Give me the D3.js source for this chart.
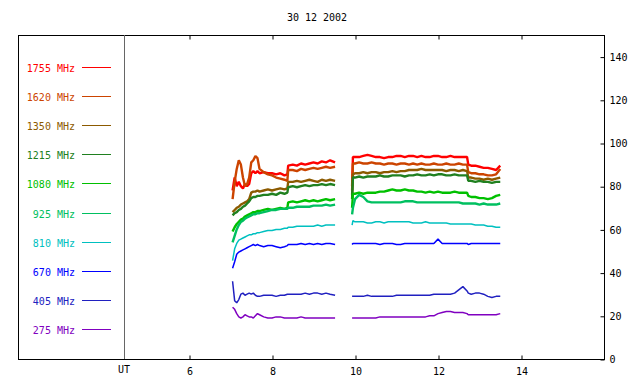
<!DOCTYPE html>
<html>
<head>
<meta charset="utf-8">
<script src="https://cdn.jsdelivr.net/npm/d3@7/dist/d3.min.js"></script>
<style>
  body { margin: 0; background: #fff; }
  text { font-family: "DejaVu Sans Mono", monospace; font-size: 10px; }
</style>
</head>
<body>
<div id="chart"></div>
<script>
// time (UT hours); 9.7 is the data gap
var times = [7.05, 7.1, 7.15, 7.2, 7.25, 7.3, 7.35, 7.4, 7.45, 7.5, 7.55, 7.6, 7.65, 7.7,
  7.8, 7.9, 8.0, 8.1, 8.2, 8.3, 8.37, 8.39, 8.5, 8.6, 8.7, 8.8, 8.9, 9.0, 9.1, 9.2, 9.3, 9.4, 9.52,
  9.7,
  9.93, 9.95, 10.0, 10.1, 10.2, 10.3, 10.4, 10.5, 10.6, 10.7, 10.8, 10.9, 11.0, 11.1, 11.2, 11.3,
  11.4, 11.5, 11.6, 11.7, 11.8, 11.9, 12.0, 12.1, 12.2, 12.3, 12.4, 12.5, 12.6, 12.7, 12.73,
  12.8, 12.9, 13.0, 13.1, 13.2, 13.3, 13.4, 13.5];

var labels = ["1755 MHz", "1620 MHz", "1350 MHz", "1215 MHz", "1080 MHz",
              "925 MHz", "810 MHz", "670 MHz", "405 MHz", "275 MHz"];
var colors = ["#ff0000", "#cc4400", "#8c5a00", "#208020", "#00c000",
              "#00c060", "#00c0c0", "#0000ff", "#2020c0", "#8000c0"];

var s1755 = [78, 84, 80, 82, 80, 79, 81, 80, 81, 86, 87, 86, 87, 86,
  86.5, 86, 86, 85.5, 86, 85, 85.5, 89.5, 90, 89.5, 90.5, 90, 90.5, 91, 90.5, 91.5, 91, 92, 91,
  null,
  80, 93.5, 93.5, 93.5, 94, 94.5, 94, 93.5, 93.5, 93, 93.5, 93.5, 94, 94, 93.5, 94, 94, 93.5, 94, 93.5,
  93.5, 94, 94, 93.5, 93.5, 94, 93.5, 93.5, 93.5, 93.5, 90, 89.5, 89.5, 89, 88.5, 88.5, 88, 87.5, 89.5];
var s1620 = [74, 82, 88, 92, 90, 84, 80, 81, 84, 91, 92, 94, 93, 88,
  86.5, 85.5, 85, 84, 83.5, 83, 82.5, 87.5, 87.5, 87, 88, 87.5, 88, 88.5, 88, 88.5, 89, 88.5, 89,
  null,
  78, 90.5, 90.5, 91, 90.5, 90.5, 91, 90.5, 90.5, 90, 90.5, 90.5, 90, 90.5, 90.5, 90, 90.5, 90, 90.5, 90,
  90, 90.5, 90, 90, 90.5, 90, 90, 90.5, 90, 90, 86.5, 86, 86, 85.5, 85.5, 85, 85, 85.5, 88];
var s1350 = [68, 69, 70, 70.5, 71.5, 72, 72.5, 73, 74, 77, 77.5, 77.5, 78, 77.5,
  78, 78.5, 78, 78.5, 79, 78.5, 79, 82, 82, 82.5, 82, 82.5, 83, 82.5, 82, 83, 82.5, 83, 82.5,
  null,
  76, 85.5, 86, 86, 86.5, 86, 86.5, 86.5, 86, 86.5, 86.5, 87, 86.5, 87, 87, 87.5, 87.5, 87.5, 88, 87.5,
  87.5, 87.5, 87.5, 87.5, 87, 87.5, 87.5, 87, 87.5, 87, 84, 84, 83.5, 83.5, 83, 83.5, 83, 83.5, 84];
var s1215 = [66.5, 67.5, 68, 69, 69.5, 70.5, 71, 72, 73, 74.5, 75, 75, 75.5, 75.5,
  76, 76, 76.5, 76, 77, 76.5, 77, 79.5, 80, 79.5, 80, 80.5, 80, 80.5, 80.5, 81, 80.5, 81, 80.5,
  null,
  74, 84, 84, 84.5, 84, 84.5, 84.5, 84.5, 85, 84.5, 84.5, 85, 85, 85, 84.5, 85, 85, 85.5, 85, 85,
  85.5, 85, 85.5, 85.5, 85, 85, 85.5, 85, 85, 85, 82.5, 82.5, 82, 82.5, 82, 82, 81.5, 82, 82];
var s1080 = [59, 61, 62.5, 63.5, 64.5, 65, 66, 66.5, 67, 67.5, 68, 68, 68.5, 68.5,
  69, 69.5, 69, 69.5, 70, 69.5, 70, 72.5, 73, 72.5, 73, 73.5, 73, 73.5, 73, 73.5, 74, 73.5, 74,
  null,
  70, 76.5, 76.5, 77, 76.5, 77, 77, 77, 77.5, 77.5, 78, 78.5, 78, 78, 78.5, 78, 78, 77.5, 77.5, 77,
  77.5, 77, 77.5, 77, 77, 77, 77.5, 77, 77, 77, 75.5, 75, 75, 74.5, 74.5, 74, 74.5, 75.5, 76];
var s925 = [54, 57, 60, 62, 63.5, 64, 65, 65.5, 66, 66.5, 67, 67, 67.5, 67.5,
  68, 68.5, 69, 69, 69.5, 69.5, 69.5, 70, 70, 70.5, 70.5, 70.5, 70.5, 71, 71, 71, 71.5, 71, 71.5,
  null,
  67, 70, 74, 76, 75, 73, 72.5, 72.5, 72.5, 72.5, 72.5, 72.5, 72.5, 72.5, 73, 73, 73, 72.5, 72.5, 72.5,
  72.5, 72.5, 72.5, 72.5, 72.5, 72.5, 72.5, 72.5, 72, 72, 72, 72, 72, 71.5, 72, 71.5, 71.5, 71.5, 72];
var s810 = [45.5, 51, 53.5, 55, 55.5, 56, 56.5, 57, 57.5, 57.5, 58, 58, 58.5, 58.5,
  59, 59.5, 59.5, 60, 60, 60.5, 60.5, 61, 61, 61.5, 61.5, 61.5, 61.5, 61.5, 62, 61.5, 62, 62, 62,
  null,
  62, 64, 63.5, 63.5, 63.5, 63, 63, 63.5, 63.5, 63, 63.5, 63.5, 63.5, 63.5, 63.5, 63.5, 63, 63, 63, 63.5,
  63, 63, 63, 63, 63, 62.5, 62.5, 62.5, 62.5, 62.5, 62.5, 62.5, 62, 62, 62, 61.5, 61.5, 61, 61];
var s670 = [42, 45, 48.5, 49.5, 50, 50.5, 51, 51.5, 52, 52.5, 53, 52.5, 53, 52.5,
  52, 52.5, 52.5, 52, 51.5, 52, 52.5, 53, 53, 53, 53.5, 53, 53.5, 53, 53.5, 53, 53.5, 53.5, 53,
  null,
  53, 53.5, 53.5, 53.5, 53.5, 53.5, 53.5, 53.5, 53, 53.5, 53.5, 53.5, 53, 53, 53.5, 53.5, 53.5, 53.5, 53.5, 53.5,
  53.5, 53.5, 55.5, 53.5, 53.5, 53.5, 53.5, 53.5, 53.5, 53.5, 53, 53.5, 53.5, 53.5, 53.5, 53.5, 53.5, 53.5, 53.5];
var s405 = [36, 27, 26, 27.5, 30, 30.5, 29.5, 30, 30.5, 30, 30.5, 29.5, 29, 29,
  29.5, 29.5, 29.5, 29, 29.5, 29.5, 30, 30, 30, 30, 30, 30.5, 30, 30.5, 30.5, 30, 30.5, 30, 29.5,
  null,
  29, 29, 29, 29, 29, 29.5, 29, 29, 29, 29, 29, 29, 29.5, 29.5, 29.5, 29.5, 29.5, 29.5, 29.5, 29.5,
  29.5, 30, 30, 30, 30, 30, 30.5, 32, 33.5, 31.5, 30.5, 30, 30.5, 30.5, 30, 29, 28.5, 29, 29];
var s275 = [24, 23, 21, 19.5, 19, 19.5, 20.5, 20, 19.5, 19.5, 19, 20, 21, 20.5,
  19.5, 19, 19, 19.5, 19.5, 19, 19, 19, 19, 19, 19.5, 19, 19, 19, 19, 19, 19, 19, 19,
  null,
  19, 19, 19, 19, 19, 19, 19, 19, 19.5, 19.5, 19.5, 19.5, 19.5, 19.5, 19.5, 19.5, 19.5, 19.5, 19.5, 19.5,
  20, 20, 21, 21.5, 22, 22, 21.5, 21.5, 21.5, 21, 20.5, 20.5, 20.5, 20.5, 20.5, 20.5, 20.5, 20.5, 21];

var series = [s1755, s1620, s1350, s1215, s1080, s925, s810, s670, s405, s275];
var xTicks = [6, 8, 10, 12, 14];
var yTicks = [0, 20, 40, 60, 80, 100, 120, 140];
var title = "30 12 2002";

var width = 640, height = 384;
var frame = {left: 18, right: 604, top: 35, bottom: 359};
var divider = 124;

var svg = d3.select("#chart").append("svg")
    .attr("width", width)
    .attr("height", height);

var x = d3.scaleLinear().domain([6, 16]).range([189, 604]);
var y = d3.scaleLinear().domain([0, 150]).range([frame.bottom, frame.top]);

// title
svg.append("text")
    .attr("x", 317).attr("y", 21)
    .attr("text-anchor", "middle")
    .text(title);

// frame
svg.append("rect")
    .attr("x", frame.left + 0.5).attr("y", frame.top + 0.5)
    .attr("width", frame.right - frame.left).attr("height", frame.bottom - frame.top)
    .attr("fill", "none").attr("stroke", "#000");

svg.append("line")
    .attr("x1", divider + 0.5).attr("x2", divider + 0.5)
    .attr("y1", frame.top).attr("y2", frame.bottom)
    .attr("stroke", "#666");

// bottom axis (ticks inward)
var xAxis = d3.axisBottom(x).tickValues(xTicks).tickSize(-4).tickPadding(8).tickSizeOuter(0);
var gx = svg.append("g")
    .attr("transform", "translate(0.5," + (frame.bottom + 0.5) + ")")
    .call(xAxis);
gx.select(".domain").remove();

var xTop = d3.axisTop(x).tickValues(xTicks).tickSize(-4).tickFormat("").tickSizeOuter(0);
var gxt = svg.append("g")
    .attr("transform", "translate(0.5," + (frame.top + 0.5) + ")")
    .call(xTop);
gxt.select(".domain").remove();

svg.append("text")
    .attr("x", divider).attr("y", 373)
    .attr("text-anchor", "middle")
    .text("UT");

// right axis (ticks inward)
var yAxis = d3.axisRight(y).tickValues(yTicks).tickSize(-4).tickPadding(5).tickSizeOuter(0);
var gy = svg.append("g")
    .attr("transform", "translate(" + (frame.right + 0.5) + ",0.5)")
    .call(yAxis);
gy.select(".domain").remove();

svg.selectAll(".tick text").style("font-family", '"DejaVu Sans Mono", monospace').style("font-size", "10px");

// legend
var legend = svg.append("g");
labels.forEach(function(l, i){
    var ly = Math.round(67 + i * 29.1) + 0.5;
    legend.append("text")
        .attr("x", 75).attr("y", ly + 4)
        .attr("text-anchor", "end")
        .attr("fill", colors[i])
        .text(l);
    legend.append("line")
        .attr("x1", 82).attr("x2", 111)
        .attr("y1", ly).attr("y2", ly)
        .attr("stroke", colors[i]);
});

// data lines (upper channels are noisier, drawn heavier)
var line = d3.line()
    .defined(function(d){ return d[1] !== null; })
    .x(function(d){ return x(d[0]); })
    .y(function(d){ return y(d[1]); });

series.forEach(function(s, i){
    var pts = times.map(function(t, j){ return [t, s[j]]; });
    svg.append("path")
        .datum(pts)
        .attr("fill", "none")
        .attr("stroke", colors[i])
        .attr("stroke-width", i < 6 ? 2.4 : 1.5)
        .attr("stroke-linejoin", "bevel")
        .attr("d", line);
});
</script>
</body>
</html>
